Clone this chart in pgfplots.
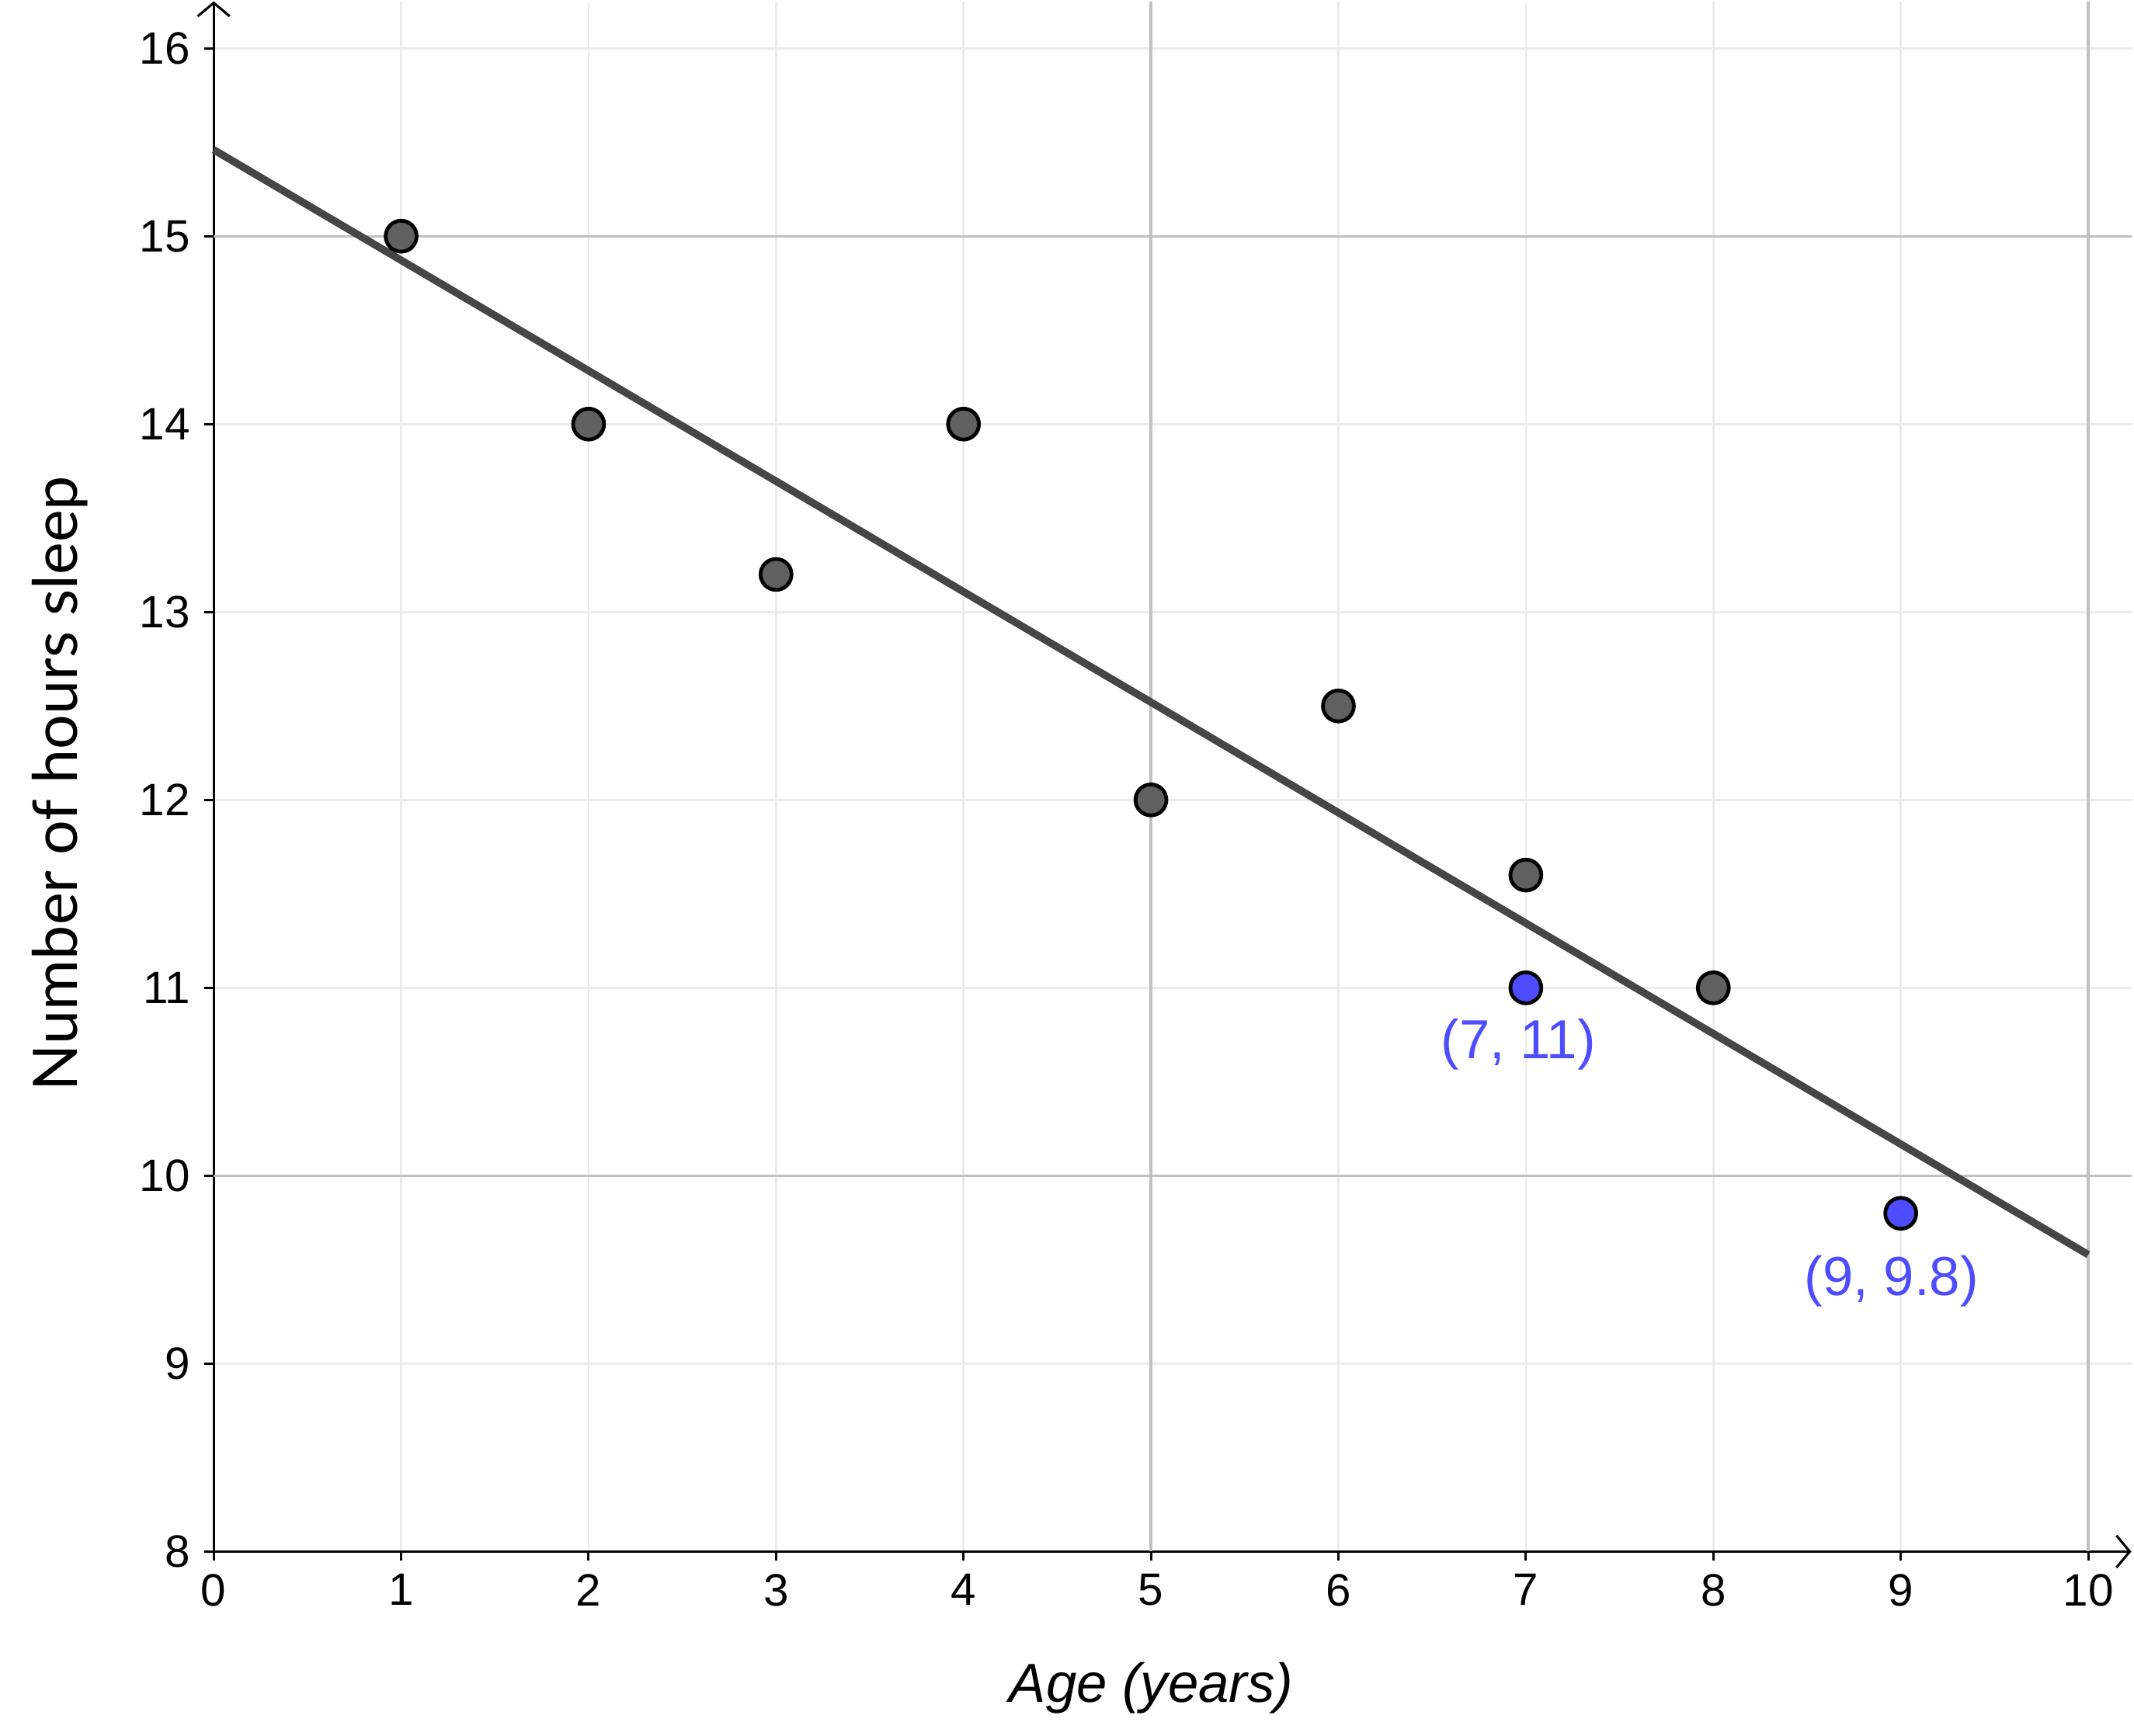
\documentclass[border=0pt]{standalone}
\usepackage{fontspec}
\setmainfont{Liberation Sans}
\newfontfamily\avenir{Lato}
\usepackage{pgfplots}
\pgfplotsset{compat=1.18}
\usetikzlibrary{arrows.meta}
\definecolor{ptgray}{HTML}{606060}
\definecolor{linegray}{HTML}{464646}
\definecolor{ggblue}{HTML}{4D4DFF}
\definecolor{gridminor}{HTML}{EBEBEB}
\definecolor{gridmajor}{HTML}{C0C0C0}
\begin{document}
\begin{tikzpicture}
\begin{axis}[
  scale only axis, width=359.4pt, height=290.6pt,
  xmin=0, xmax=10.23, ymin=8, ymax=16.25,
  axis lines=left,
  axis line style={line width=0.45pt, -{Straight Barb[length=2.5pt,width=6pt]}},
  xtick={0,...,10}, ytick={8,...,16},
  tick style={black, line width=0.45pt},
  tick align=outside, major tick length=1.7pt,
  grid=major, major grid style={color=gridminor, line width=0.4pt},
  extra x ticks={5,10}, extra y ticks={10,15},
  extra x tick labels={}, extra y tick labels={},
  extra tick style={major grid style={color=gridmajor, line width=0.5pt}},
  ticklabel style={font=\fontsize{8.5}{10}\selectfont},
  xticklabel style={yshift=1pt},
  yticklabel style={xshift=0.8pt},
  /pgf/number format/assume math mode=true,
  xlabel={\itshape Age (years)},
  ylabel={\avenir Number of hours sleep},
  xlabel style={font=\fontsize{10.3}{12}\selectfont, at={(axis description cs:0.489,0)}, anchor=north, yshift=-17.3pt},
  ylabel style={font=\fontsize{11.5}{13}\selectfont, at={(axis description cs:0,0.4955)}, anchor=south, yshift=20pt},
  clip=false,
]
\addplot[linegray, line width=1.4pt] coordinates {(0,15.46) (10,9.58)};
\addplot[only marks, mark=*, mark size=2.9pt, mark options={fill=ptgray, draw=black, line width=0.7pt}]
  coordinates {(1,15) (2,14) (3,13.2) (4,14) (5,12) (6,12.5) (7,11.6) (8,11)};
\addplot[only marks, mark=*, mark size=2.9pt, mark options={fill=ggblue, draw=black, line width=0.7pt}]
  coordinates {(7,11) (9,9.8)};
\node[text=ggblue, font=\fontsize{10.3}{12}\selectfont] at (axis cs:6.96,10.70) {(7, 11)};
\node[text=ggblue, font=\fontsize{10.3}{12}\selectfont] at (axis cs:8.95,9.44) {(9, 9.8)};
\coordinate (O) at (rel axis cs:0,0);
\coordinate (T) at (rel axis cs:1,1);
\end{axis}
\path (O) ++(-40.05pt,-34.44pt) coordinate (BL);
\path (T) ++(0.5pt,0pt) coordinate (TR);
\useasboundingbox (BL) rectangle (TR);
\end{tikzpicture}
\end{document}
